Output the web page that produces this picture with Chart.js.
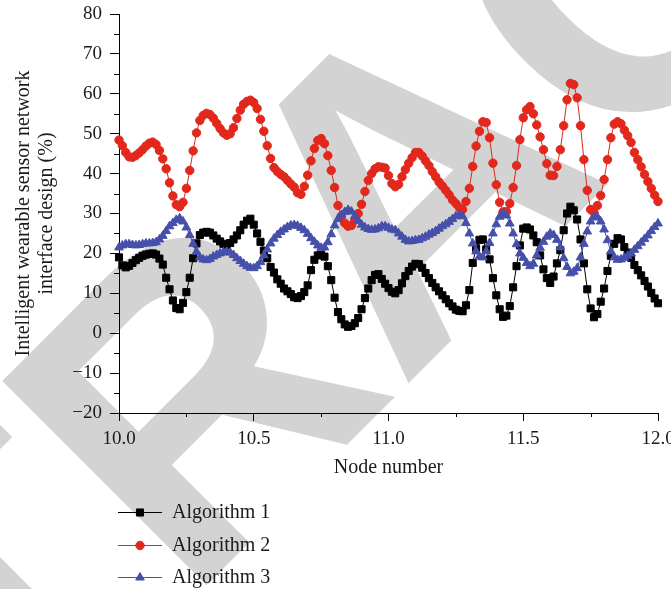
<!DOCTYPE html>
<html>
<head>
<meta charset="utf-8">
<script src="https://cdn.jsdelivr.net/npm/chart.js@4.4.1/dist/chart.umd.min.js"></script>
<style>
  html, body { margin: 0; padding: 0; background: #fff; overflow: hidden; }
  #wrap { position: relative; width: 671px; height: 589px; }
</style>
</head>
<body>
<div id="wrap"><canvas id="nodeChart"></canvas></div>
<script>
// node numbers (x) shared by all three series
const nodeNumbers = [
  10, 10.0125, 10.025, 10.0375, 10.05, 10.0625, 10.075, 10.0875,
  10.1, 10.1125, 10.125, 10.1375, 10.15, 10.1625, 10.175, 10.1875,
  10.2, 10.2125, 10.225, 10.2375, 10.25, 10.2625, 10.275, 10.2875,
  10.3, 10.3125, 10.325, 10.3375, 10.35, 10.3625, 10.375, 10.3875,
  10.4, 10.4125, 10.425, 10.4375, 10.45, 10.4625, 10.475, 10.4875,
  10.5, 10.5125, 10.525, 10.5375, 10.55, 10.5625, 10.575, 10.5875,
  10.6, 10.6125, 10.625, 10.6375, 10.65, 10.6625, 10.675, 10.6875,
  10.7, 10.7125, 10.725, 10.7375, 10.75, 10.7625, 10.775, 10.7875,
  10.8, 10.8125, 10.825, 10.8375, 10.85, 10.8625, 10.875, 10.8875,
  10.9, 10.9125, 10.925, 10.9375, 10.95, 10.9625, 10.975, 10.9875,
  11, 11.0125, 11.025, 11.0375, 11.05, 11.0625, 11.075, 11.0875,
  11.1, 11.1125, 11.125, 11.1375, 11.15, 11.1625, 11.175, 11.1875,
  11.2, 11.2125, 11.225, 11.2375, 11.25, 11.2625, 11.275, 11.2875,
  11.3, 11.3125, 11.325, 11.3375, 11.35, 11.3625, 11.375, 11.3875,
  11.4, 11.4125, 11.425, 11.4375, 11.45, 11.4625, 11.475, 11.4875,
  11.5, 11.5125, 11.525, 11.5375, 11.55, 11.5625, 11.575, 11.5875,
  11.6, 11.6125, 11.625, 11.6375, 11.65, 11.6625, 11.675, 11.6875,
  11.7, 11.7125, 11.725, 11.7375, 11.75, 11.7625, 11.775, 11.7875,
  11.8, 11.8125, 11.825, 11.8375, 11.85, 11.8625, 11.875, 11.8875,
  11.9, 11.9125, 11.925, 11.9375, 11.95, 11.9625, 11.975, 11.9875,
  12
];

const algorithm1 = [
  19.0, 17.0, 16.5, 16.9, 17.6, 18.3, 18.9, 19.4,
  19.7, 19.9, 20.0, 19.7, 18.7, 17.2, 13.9, 11.0,
  8.2, 6.3, 6.0, 7.6, 10.3, 13.9, 18.8, 22.5,
  24.6, 25.2, 25.4, 25.2, 24.5, 23.7, 23.0, 22.4,
  22.1, 22.6, 23.5, 24.5, 25.8, 27.2, 28.2, 28.7,
  27.2, 25.0, 22.9, 20.7, 18.8, 16.6, 15.2, 13.5,
  12.4, 11.2, 10.5, 9.8, 9.0, 8.8, 9.3, 10.3,
  12.0, 15.8, 18.4, 19.5, 19.6, 19.2, 16.8, 13.3,
  8.9, 5.3, 3.5, 2.2, 1.6, 1.8, 2.5, 3.8,
  6.0, 8.8, 11.2, 13.3, 14.6, 14.8, 13.6, 12.4,
  11.3, 10.4, 10.0, 10.8, 12.5, 14.3, 15.6, 16.7,
  17.4, 17.3, 16.4, 15.1, 13.8, 12.6, 11.5, 10.5,
  9.5, 8.5, 7.5, 6.7, 5.9, 5.6, 5.5, 7.0,
  10.8, 17.6, 21.3, 23.4, 23.5, 21.0, 18.5, 13.8,
  9.5, 6.0, 4.1, 4.4, 6.8, 11.5, 16.8, 22.0,
  26.2, 26.5, 26.0, 24.5, 22.8, 19.5, 16.0, 13.8,
  12.6, 14.2, 17.5, 20.8, 25.8, 30.0, 31.7, 30.8,
  28.5, 23.5, 17.5, 11.0, 6.2, 4.0, 4.8, 7.9,
  11.2, 15.6, 19.4, 22.4, 23.8, 23.5, 21.6, 20.2,
  18.9, 17.1, 15.8, 14.5, 13.1, 11.7, 10.1, 8.7,
  7.5
];

const algorithm2 = [
  48.4, 47.0, 45.3, 44.2, 44.1, 44.5, 45.2, 46.0,
  46.9, 47.6, 47.9, 47.3, 45.8, 43.7, 41.2, 37.7,
  34.4, 32.2, 31.7, 32.8, 36.3, 40.8, 45.7, 50.2,
  53.3, 54.6, 55.1, 54.8, 53.9, 52.6, 51.3, 50.2,
  49.6, 50.0, 51.5, 53.8, 55.9, 57.4, 58.1, 58.4,
  57.8, 56.3, 53.6, 50.6, 47.0, 43.8, 41.5, 40.5,
  39.8, 39.2, 38.3, 37.4, 36.6, 35.2, 34.8, 36.8,
  39.6, 43.2, 46.3, 48.3, 48.8, 47.5, 44.5, 40.8,
  36.5, 32.0, 29.4, 27.6, 26.8, 27.0, 28.3, 30.0,
  32.3, 35.5, 38.3, 40.0, 41.2, 41.7, 41.6, 41.4,
  39.5, 37.5, 36.7, 37.3, 39.2, 41.0, 42.6, 44.0,
  45.3, 45.3, 44.4, 43.2, 42.0, 40.5, 39.2, 37.9,
  36.9, 35.8, 34.7, 33.4, 32.5, 31.5, 31.0, 33.0,
  36.3, 41.8, 46.9, 50.6, 53.0, 52.8, 49.0, 42.6,
  37.2, 32.8, 30.4, 30.5, 32.5, 36.5, 42.0, 48.5,
  54.0, 56.0, 56.8, 55.0, 52.2, 49.2, 46.0, 42.5,
  39.6, 39.5, 41.8, 46.0, 52.0, 58.5, 62.6, 62.3,
  59.0, 52.0, 43.5, 35.8, 31.0, 30.2, 32.0, 34.5,
  38.5, 43.5, 49.0, 52.4, 53.0, 52.5, 50.9, 49.5,
  47.8, 45.3, 43.5, 41.7, 39.8, 38.0, 36.3, 34.6,
  33.0
];

const algorithm3 = [
  21.5, 22.0, 22.3, 22.3, 22.1, 22.0, 22.1, 22.3,
  22.5, 22.5, 22.6, 22.8, 23.5, 24.4, 25.6, 26.8,
  27.6, 28.4, 28.8, 28.0, 26.5, 24.6, 22.4, 20.4,
  19.0, 18.5, 18.3, 18.6, 19.2, 19.6, 20.0, 20.3,
  20.4, 20.2, 19.6, 18.8, 18.1, 17.4, 16.8, 16.4,
  16.3, 16.8, 17.8, 19.5, 21.0, 22.5, 23.7, 24.6,
  25.4, 26.0, 26.6, 27.0, 27.1, 26.9, 26.4, 25.8,
  24.9, 23.8, 22.9, 22.0, 21.4, 21.5, 22.8, 24.8,
  27.0, 28.6, 29.6, 30.4, 30.9, 30.5, 29.4, 28.2,
  27.2, 26.5, 26.1, 25.9, 26.0, 26.3, 26.8, 26.8,
  26.4, 26.0, 25.8, 25.0, 24.2, 23.4, 23.0, 23.1,
  23.3, 23.4, 23.8, 24.2, 24.7, 25.1, 25.6, 26.2,
  26.8, 27.3, 27.9, 28.6, 29.3, 29.6, 29.3, 27.6,
  25.0, 22.5, 20.5, 19.2, 19.0, 20.5, 22.6, 25.0,
  27.3, 29.2, 30.0, 29.5, 27.5, 25.0, 22.3, 20.0,
  18.9, 17.6, 16.8, 17.4, 19.5, 21.4, 22.9, 24.2,
  25.0, 24.6, 23.4, 21.5, 18.8, 16.6, 15.0, 15.4,
  16.3, 19.0, 22.4, 25.5, 28.0, 29.0, 29.1, 28.0,
  26.0, 23.3, 20.5, 19.0, 18.4, 18.5, 18.9, 19.4,
  20.0, 20.9, 21.8, 22.7, 23.6, 24.5, 25.6, 26.6,
  27.5
];

const seriesNames = ["Algorithm 1", "Algorithm 2", "Algorithm 3"];
const xTicks = [10.0, 10.5, 11.0, 11.5, 12.0];
const xMinorTicks = [10.25, 10.75, 11.25, 11.75];
const yTicks = [-20, -10, 0, 10, 20, 30, 40, 50, 60, 70, 80];
const yMinorTicks = [-15, -5, 5, 15, 25, 35, 45, 55, 65, 75];

const SERIF = '"Liberation Serif", "DejaVu Serif", serif';
const INK = "#1a1a1a";

const toPoints = (ys) => nodeNumbers.map((x, i) => ({ x: x, y: ys[i] }));

// big grey watermark behind everything
const watermark = {
  id: "watermark",
  beforeDraw(chart) {
    const ctx = chart.ctx;
    const size = 420;
    ctx.save();
    ctx.fillStyle = "#fff";
    ctx.fillRect(0, 0, chart.width, chart.height);
    ctx.font = "bold " + size + 'px "Liberation Sans", Arial, sans-serif';
    ctx.fillStyle = "#d3d3d3";
    const before = ctx.measureText("RETR").width;
    const aW = ctx.measureText("A").width;
    ctx.translate(400, 175);
    ctx.rotate(-Math.PI / 4);
    ctx.fillText("RETRACTED", -(before + aW / 2), size * 0.365);
    ctx.restore();
  }
};

// short minor ticks on both axes
const minorTicks = {
  id: "minorTicks",
  afterDraw(chart) {
    const { ctx, scales: { x, y }, chartArea } = chart;
    ctx.save();
    ctx.strokeStyle = "#000";
    ctx.lineWidth = 1;
    ctx.beginPath();
    xMinorTicks.forEach((v) => {
      const px = Math.round(x.getPixelForValue(v)) + 0.5;
      ctx.moveTo(px, chartArea.bottom);
      ctx.lineTo(px, chartArea.bottom + 4);
    });
    yMinorTicks.forEach((v) => {
      const py = Math.round(y.getPixelForValue(v)) + 0.5;
      ctx.moveTo(chartArea.left - 5, py);
      ctx.lineTo(chartArea.left, py);
    });
    ctx.stroke();
    ctx.restore();
  }
};

// legend below the plot: line + marker + label
const stackedLegend = {
  id: "stackedLegend",
  afterDraw(chart) {
    const ctx = chart.ctx;
    const rows = [512, 545, 577];
    ctx.save();
    chart.data.datasets.forEach((ds, i) => {
      const y = rows[i];
      ctx.strokeStyle = ds.borderColor;
      ctx.lineWidth = 1;
      ctx.beginPath();
      ctx.moveTo(118, y + 0.5);
      ctx.lineTo(162, y + 0.5);
      ctx.stroke();
      ctx.fillStyle = ds.pointBackgroundColor;
      ctx.strokeStyle = ds.pointBorderColor;
      Chart.helpers.drawPoint(ctx, {
        pointStyle: ds.pointStyle,
        radius: ds.pointRadius,
        borderWidth: ds.pointBorderWidth,
        rotation: 0
      }, 140, y + 0.5);
      ctx.fillStyle = INK;
      ctx.font = "20px " + SERIF;
      ctx.textAlign = "left";
      ctx.textBaseline = "middle";
      ctx.fillText(seriesNames[i], 172, y + 1);
    });
    ctx.restore();
  }
};

const ctx = document.getElementById("nodeChart").getContext("2d");

new Chart(ctx, {
  type: "line",
  data: {
    datasets: [
      {
        label: seriesNames[0],
        data: toPoints(algorithm1),
        borderColor: "#000000",
        borderWidth: 1,
        pointStyle: "rect",
        pointRadius: 5,
        pointBorderWidth: 1,
        pointBackgroundColor: "#000000",
        pointBorderColor: "#000000",
        order: 3,
        clip: false
      },
      {
        label: seriesNames[1],
        data: toPoints(algorithm2),
        borderColor: "#e2281c",
        borderWidth: 1,
        pointStyle: "circle",
        pointRadius: 4.2,
        pointBorderWidth: 1,
        pointBackgroundColor: "#e2281c",
        pointBorderColor: "#e2281c",
        order: 2,
        clip: false
      },
      {
        label: seriesNames[2],
        data: toPoints(algorithm3),
        borderColor: "#4650aa",
        borderWidth: 1,
        pointStyle: "triangle",
        pointRadius: 5,
        pointBorderWidth: 1,
        pointBackgroundColor: "#4650aa",
        pointBorderColor: "#4650aa",
        order: 1,
        clip: false
      }
    ]
  },
  options: {
    responsive: true,
    maintainAspectRatio: false,
    animation: false,
    layout: { padding: { left: 0, right: 13, top: 14, bottom: 106 } },
    plugins: {
      legend: { display: false },
      tooltip: { enabled: false }
    },
    scales: {
      x: {
        type: "linear",
        min: 10,
        max: 12,
        afterBuildTicks: (s) => { s.ticks = xTicks.map((v) => ({ value: v })); },
        afterFit: (s) => { s.height = 70; s.paddingLeft = 0; s.paddingRight = 0; },
        border: { display: true, color: "#000", width: 1 },
        grid: { display: true, drawOnChartArea: false, drawTicks: true, tickLength: 8, color: "#000" },
        ticks: {
          color: INK,
          padding: 7,
          maxRotation: 0,
          font: { family: SERIF, size: 19 },
          callback: (v) => Number(v).toFixed(1)
        },
        title: {
          display: true,
          text: "Node number",
          color: INK,
          font: { family: SERIF, size: 20 },
          padding: { top: 0, bottom: 3 }
        }
      },
      y: {
        min: -20,
        max: 80,
        afterBuildTicks: (s) => { s.ticks = yTicks.map((v) => ({ value: v })); },
        afterFit: (s) => { s.width = 119; s.paddingTop = 0; s.paddingBottom = 0; },
        border: { display: true, color: "#000", width: 1 },
        grid: { display: true, drawOnChartArea: false, drawTicks: true, tickLength: 9, color: "#000" },
        ticks: {
          color: INK,
          padding: 8,
          font: { family: SERIF, size: 19 },
          callback: (v) => (v < 0 ? "\u2212" + Math.abs(v) : String(v))
        },
        title: {
          display: true,
          text: ["Intelligent wearable sensor network", "interface design (%)"],
          color: INK,
          font: { family: SERIF, size: 20, lineHeight: 1.15 },
          padding: { top: 12, bottom: 0 }
        }
      }
    }
  },
  plugins: [watermark, minorTicks, stackedLegend]
});
</script>
</body>
</html>
